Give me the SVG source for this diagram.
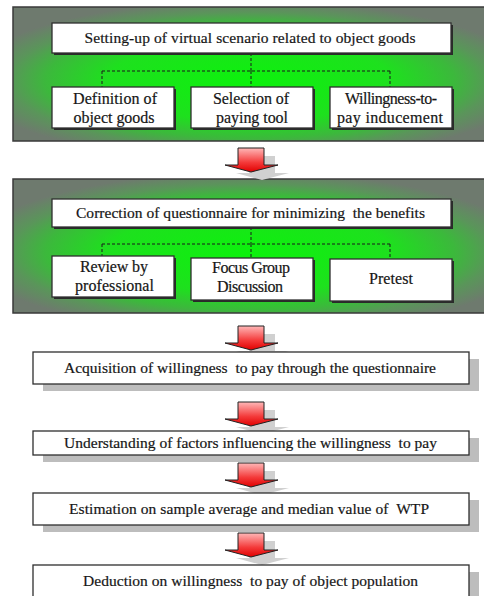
<svg xmlns="http://www.w3.org/2000/svg" width="484" height="596" viewBox="0 0 484 596">
  <defs>
    <radialGradient id="frameGrad" cx="0.5" cy="0.55" r="0.6">
      <stop offset="0" stop-color="#0cf20c"/>
      <stop offset="0.5" stop-color="#1ee01e"/>
      <stop offset="0.72" stop-color="#3cb83c"/>
      <stop offset="0.85" stop-color="#5a955a"/>
      <stop offset="1" stop-color="#6e7a6e"/>
    </radialGradient>
    <linearGradient id="arrowGrad" x1="0" y1="0" x2="0" y2="1">
      <stop offset="0" stop-color="#ffb8b8"/>
      <stop offset="0.6" stop-color="#f43a3a"/>
      <stop offset="1" stop-color="#e00000"/>
    </linearGradient>
    <polygon id="arrowShape" points="238,0 264,0 264,17 278,17 251,24 225,17 238,17"/>
  </defs>
  <style>
    .frame { fill: url(#frameGrad); stroke: #3a3a3a; stroke-width: 1.5; }
    .box { fill: #ffffff; stroke: #2e2e2e; stroke-width: 1.3; }
    .ishadow { fill: #2a2a2a; }
    .shadow { fill: #bdbdbd; }
    .dash { fill: none; stroke: #1a1a1a; stroke-width: 1; stroke-dasharray: 3 2; }
    .arrow { fill: url(#arrowGrad); stroke: #222; stroke-width: 1; }
    .ashadow { fill: #d0d0d0; }
    text { font-family: "Liberation Serif", "Times New Roman", serif; font-size: 15.5px; fill: #161616; stroke: #161616; stroke-width: 0.2; text-anchor: middle; white-space: pre; }
    text.s { font-size: 16px; }
  </style>

  <g id="frame1">
    <rect class="frame" x="13" y="7" width="474" height="134"/>
  </g>
  <g id="frame2">
    <rect class="frame" x="13" y="179" width="474" height="134"/>
  </g>

  <g id="connectors">
    <path class="dash" d="M251,53 V71 M102,71 H390 M102,71 V87 M251,71 V87 M390,71 V87"/>
    <path class="dash" d="M251,227 V244 M102,244 H390 M102,244 V256 M251,244 V258 M390,244 V259"/>
    <g id="arrow1">
      <use href="#arrowShape" class="ashadow" transform="translate(11,156)"/>
      <use href="#arrowShape" class="arrow" transform="translate(0,148)"/>
    </g>
    <g id="arrow2">
      <use href="#arrowShape" class="ashadow" transform="translate(11,334)"/>
      <use href="#arrowShape" class="arrow" transform="translate(0,326)"/>
    </g>
    <g id="arrow3">
      <use href="#arrowShape" class="ashadow" transform="translate(11,410)"/>
      <use href="#arrowShape" class="arrow" transform="translate(0,402)"/>
    </g>
    <g id="arrow4">
      <use href="#arrowShape" class="ashadow" transform="translate(11,471)"/>
      <use href="#arrowShape" class="arrow" transform="translate(0,463)"/>
    </g>
    <g id="arrow5">
      <use href="#arrowShape" class="ashadow" transform="translate(11,541)"/>
      <use href="#arrowShape" class="arrow" transform="translate(0,533)"/>
    </g>
  </g>

  <g id="setup">
    <rect class="ishadow" x="54" y="25" width="399" height="30"/>
    <rect class="box" x="52" y="23" width="399" height="30"/>
    <text x="250" y="43" textLength="331" lengthAdjust="spacing">Setting-up of virtual scenario related to object goods</text>
  </g>
  <g id="definition">
    <rect class="ishadow" x="54" y="89" width="122" height="41"/>
    <rect class="box" x="52" y="87" width="122" height="41"/>
    <text class="s" x="115" y="104" textLength="84" lengthAdjust="spacing">Definition of</text>
    <text class="s" x="114" y="123" textLength="81" lengthAdjust="spacing">object goods</text>
  </g>
  <g id="selection">
    <rect class="ishadow" x="193" y="89" width="122" height="41"/>
    <rect class="box" x="191" y="87" width="122" height="41"/>
    <text class="s" x="251" y="104" textLength="76" lengthAdjust="spacing">Selection of</text>
    <text class="s" x="252" y="123" textLength="72" lengthAdjust="spacing">paying tool</text>
  </g>
  <g id="inducement">
    <rect class="ishadow" x="332" y="89" width="122" height="41"/>
    <rect class="box" x="330" y="87" width="122" height="41"/>
    <text class="s" x="391" y="104" textLength="92" lengthAdjust="spacing">Willingness-to-</text>
    <text class="s" x="390" y="123" textLength="106" lengthAdjust="spacing">pay inducement</text>
  </g>

  <g id="correction">
    <rect class="ishadow" x="54" y="201" width="399" height="28"/>
    <rect class="box" x="52" y="199" width="399" height="28"/>
    <text x="250.5" y="218" textLength="349" lengthAdjust="spacing">Correction of questionnaire for minimizing  the benefits</text>
  </g>
  <g id="review">
    <rect class="ishadow" x="54" y="258" width="122" height="41"/>
    <rect class="box" x="52" y="256" width="122" height="41"/>
    <text class="s" x="114" y="272" textLength="68" lengthAdjust="spacing">Review by</text>
    <text class="s" x="114.5" y="291" textLength="79" lengthAdjust="spacing">professional</text>
  </g>
  <g id="focus">
    <rect class="ishadow" x="193" y="260" width="122" height="42"/>
    <rect class="box" x="191" y="258" width="122" height="42"/>
    <text class="s" x="251" y="273" textLength="78" lengthAdjust="spacing">Focus Group</text>
    <text class="s" x="250" y="292" textLength="66" lengthAdjust="spacing">Discussion</text>
  </g>
  <g id="pretest">
    <rect class="ishadow" x="332" y="261" width="122" height="42"/>
    <rect class="box" x="330" y="259" width="122" height="42"/>
    <text class="s" x="391" y="284" textLength="44" lengthAdjust="spacing">Pretest</text>
  </g>

  <g id="acquisition">
    <rect class="shadow" x="43" y="359" width="436" height="32"/>
    <rect class="box" x="33" y="352" width="436" height="32"/>
    <text x="250" y="373" textLength="372" lengthAdjust="spacing">Acquisition of willingness  to pay through the questionnaire</text>
  </g>
  <g id="understanding">
    <rect class="shadow" x="43" y="438" width="436" height="24"/>
    <rect class="box" x="33" y="431" width="436" height="24"/>
    <text x="250.5" y="448" textLength="373" lengthAdjust="spacing">Understanding of factors influencing the willingness  to pay</text>
  </g>
  <g id="estimation">
    <rect class="shadow" x="43" y="500" width="436" height="32"/>
    <rect class="box" x="33" y="493" width="436" height="32"/>
    <text x="249" y="514" textLength="360" lengthAdjust="spacing">Estimation on sample average and median value of  WTP</text>
  </g>
  <g id="deduction">
    <rect class="shadow" x="43" y="572" width="436" height="32"/>
    <rect class="box" x="33" y="565" width="436" height="35"/>
    <text x="250.5" y="586" textLength="335" lengthAdjust="spacing">Deduction on willingness  to pay of object population</text>
  </g>
</svg>
